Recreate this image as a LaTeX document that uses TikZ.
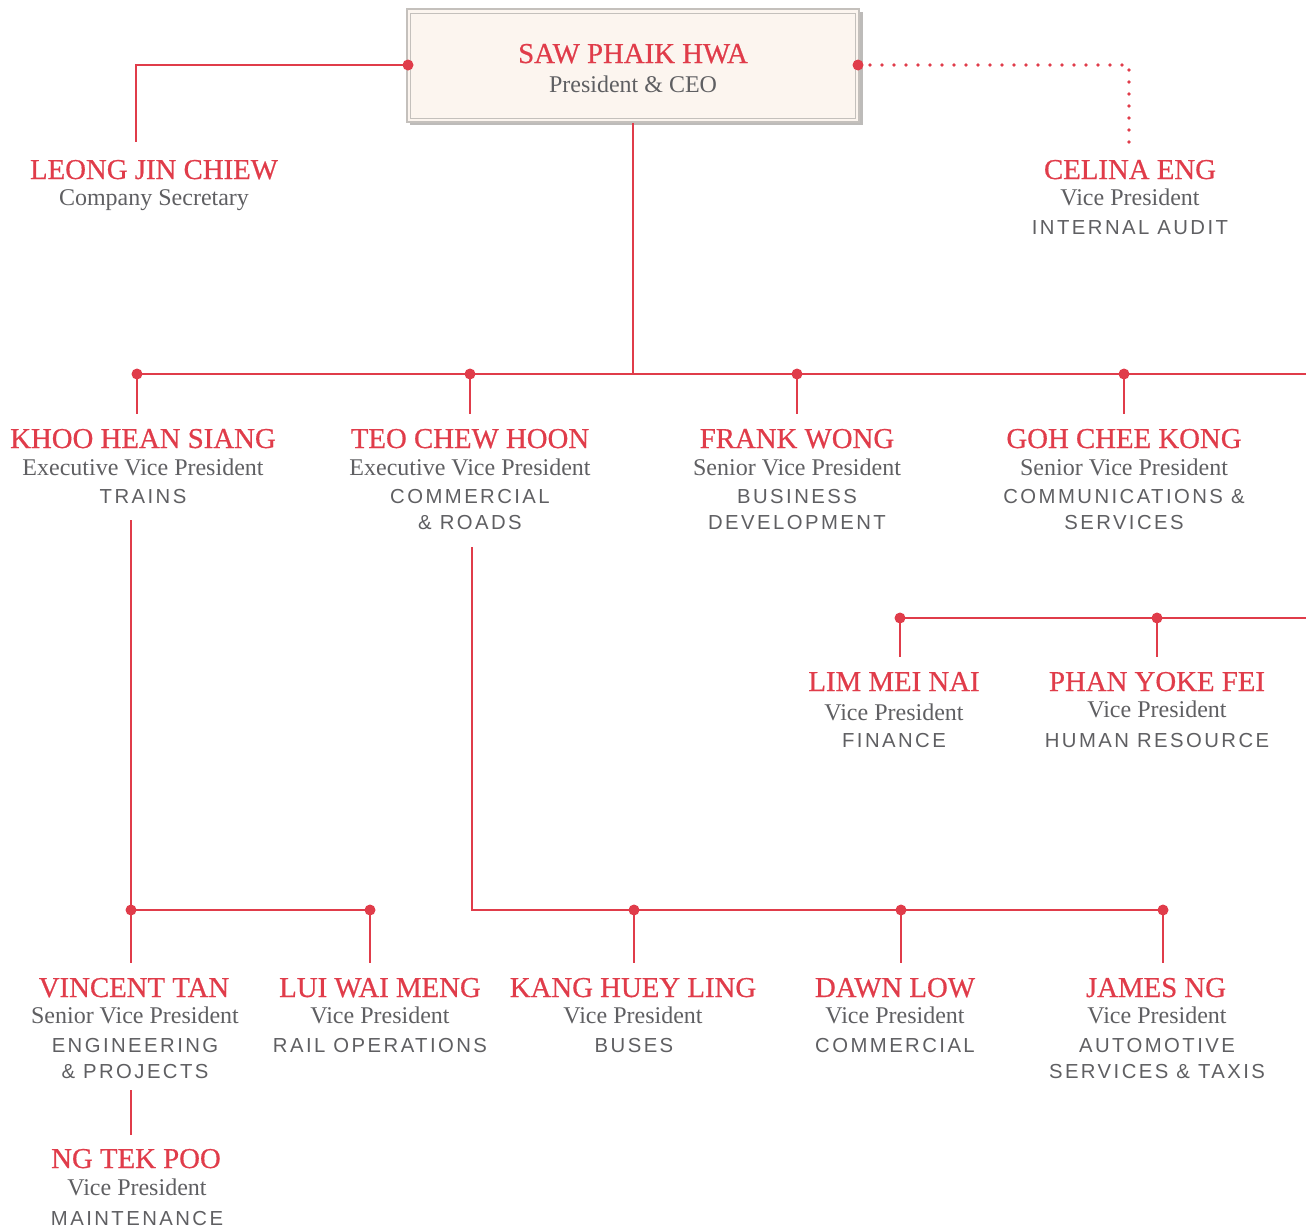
\documentclass[tikz,border=0pt]{standalone}
\usepackage{fontspec}
\setmainfont{Liberation Serif}
\newfontfamily\deptfont[LetterSpace=12]{Liberation Sans}
\newfontfamily\namefont[FakeBold=0.6]{Liberation Serif}
\definecolor{cred}{HTML}{E03C4A}
\definecolor{cgray}{HTML}{5F5F62}
\definecolor{cream}{HTML}{FCF5EF}
\definecolor{boxline}{HTML}{C4C0BC}
\definecolor{shadowc}{HTML}{BDBBB9}
\tikzset{
  nm/.style={font=\namefont\fontsize{28.8}{28.8}\selectfont, text=cred, anchor=base, inner sep=0pt},
  ttl/.style={font=\fontsize{24}{24}\selectfont, text=cgray, anchor=base, inner sep=0pt},
  dpt/.style={font=\deptfont\fontsize{20.3}{20.3}\selectfont, text=cgray, anchor=base, inner sep=0pt},
  link/.style={draw=cred, line width=2pt},
  dotted link/.style={draw=cred, line width=3.8pt, line cap=round, dash pattern=on 0pt off 12pt},
  jdot/.style={fill=cred},
}
\begin{document}
\begin{tikzpicture}[x=1pt,y=-1pt]
\useasboundingbox (0,0) rectangle (1306,1229);
% CEO box
\fill[shadowc] (410,12) rectangle (863,125);
\node[draw=boxline, line width=1.5pt, fill=cream, minimum width=452pt, minimum height=113pt, inner sep=0pt] (ceo) at (633,65.5) {};
\node[draw=boxline, line width=1pt, minimum width=445pt, minimum height=105pt, inner sep=0pt] (ceoin) at (633,65.5) {};
\node[nm] (ceo-n) at (633,63) {SAW PHAIK HWA};
\node[ttl] (ceo-t) at (633,92) {President \& CEO};
% coordinates
\coordinate (leongTop) at (136,142);
\coordinate (celinaTop) at (1129,142);
\coordinate (dl) at (408,65);
\coordinate (dr) at (858,65);
\coordinate (hub) at (633,374);
\coordinate (b1) at (137,374);
\coordinate (b2) at (470,374);
\coordinate (b3) at (797,374);
\coordinate (b4) at (1124,374);
\coordinate (bEnd) at (1306,374);
\coordinate (b1d) at (137,414);
\coordinate (b2d) at (470,414);
\coordinate (b3d) at (797,414);
\coordinate (b4d) at (1124,414);
\coordinate (khooBot) at (131,520);
\coordinate (c1) at (131,910);
\coordinate (c2) at (370,910);
\coordinate (c1d) at (131,963);
\coordinate (c2d) at (370,963);
\coordinate (teoBot) at (472,547);
\coordinate (d1) at (634,910);
\coordinate (d2) at (901,910);
\coordinate (d3) at (1163,910);
\coordinate (d1d) at (634,963);
\coordinate (d2d) at (901,963);
\coordinate (d3d) at (1163,963);
\coordinate (vinBot) at (131,1090);
\coordinate (ngTop) at (131,1135);
\coordinate (e1) at (900,618);
\coordinate (e2) at (1157,618);
\coordinate (eEnd) at (1306,618);
\coordinate (e1d) at (900,657);
\coordinate (e2d) at (1157,657);
% connectors
\draw[link] (dl) -| (leongTop);
\draw[dotted link] (870,65) -| (celinaTop);
\draw[link] (ceo.south) -- (hub);
\draw[link] (b1) -- (bEnd);
\foreach \a/\b in {b1/b1d,b2/b2d,b3/b3d,b4/b4d,c1/c1d,c2/c2d,d1/d1d,d2/d2d,d3/d3d,e1/e1d,e2/e2d,vinBot/ngTop}
  \draw[link] (\a) -- (\b);
\draw[link] (khooBot) -- (c1) -- (c2);
\draw[link] (teoBot) |- (d3);
\draw[link] (e1) -- (eEnd);
\foreach \p in {dl,dr,b1,b2,b3,b4,c1,c2,d1,d2,d3,e1,e2}
  \fill[jdot] (\p) circle (5.5pt);
% people
\node[nm] (leong-n) at (154,179) {LEONG JIN CHIEW};
\node[ttl] (leong-t) at (154,205) {Company Secretary};

\node[nm] (celina-n) at (1130,179) {CELINA ENG};
\node[ttl] (celina-t) at (1130,205) {Vice President};
\node[dpt] (celina-d) at (1130,234) {INTERNAL AUDIT};

\node[nm] (khoo-n) at (143,448) {KHOO HEAN SIANG};
\node[ttl] (khoo-t) at (143,475) {Executive Vice President};
\node[dpt] (khoo-d) at (143,503) {TRAINS};

\node[nm] (teo-n) at (470,448) {TEO CHEW HOON};
\node[ttl] (teo-t) at (470,475) {Executive Vice President};
\node[dpt] (teo-d1) at (470,503) {COMMERCIAL};
\node[dpt] (teo-d2) at (470,529) {\& ROADS};

\node[nm] (frank-n) at (797,448) {FRANK WONG};
\node[ttl] (frank-t) at (797,475) {Senior Vice President};
\node[dpt] (frank-d1) at (797,503) {BUSINESS};
\node[dpt] (frank-d2) at (797,529) {DEVELOPMENT};

\node[nm] (goh-n) at (1124,448) {GOH CHEE KONG};
\node[ttl] (goh-t) at (1124,475) {Senior Vice President};
\node[dpt] (goh-d1) at (1124,503) {COMMUNICATIONS \&};
\node[dpt] (goh-d2) at (1124,529) {SERVICES};

\node[nm] (lim-n) at (894,691) {LIM MEI NAI};
\node[ttl] (lim-t) at (894,720) {Vice President};
\node[dpt] (lim-d) at (894,747) {FINANCE};

\node[nm] (phan-n) at (1157,691) {PHAN YOKE FEI};
\node[ttl] (phan-t) at (1157,717) {Vice President};
\node[dpt] (phan-d) at (1157,747) {HUMAN RESOURCE};

\node[nm] (vin-n) at (134,997) {VINCENT TAN};
\node[ttl] (vin-t) at (135,1023) {Senior Vice President};
\node[dpt] (vin-d1) at (135,1052) {ENGINEERING};
\node[dpt] (vin-d2) at (135,1078) {\& PROJECTS};

\node[nm] (lui-n) at (380,997) {LUI WAI MENG};
\node[ttl] (lui-t) at (380,1023) {Vice President};
\node[dpt] (lui-d) at (380,1052) {RAIL OPERATIONS};

\node[nm] (kang-n) at (633,997) {KANG HUEY LING};
\node[ttl] (kang-t) at (633,1023) {Vice President};
\node[dpt] (kang-d) at (634,1052) {BUSES};

\node[nm] (dawn-n) at (895,997) {DAWN LOW};
\node[ttl] (dawn-t) at (895,1023) {Vice President};
\node[dpt] (dawn-d) at (895,1052) {COMMERCIAL};

\node[nm] (james-n) at (1156,997) {JAMES NG};
\node[ttl] (james-t) at (1157,1023) {Vice President};
\node[dpt] (james-d1) at (1157,1052) {AUTOMOTIVE};
\node[dpt] (james-d2) at (1157,1078) {SERVICES \& TAXIS};

\node[nm] (ng-n) at (136,1168) {NG TEK POO};
\node[ttl] (ng-t) at (137,1195) {Vice President};
\node[dpt] (ng-d) at (137,1225) {MAINTENANCE};
\end{tikzpicture}
\end{document}
